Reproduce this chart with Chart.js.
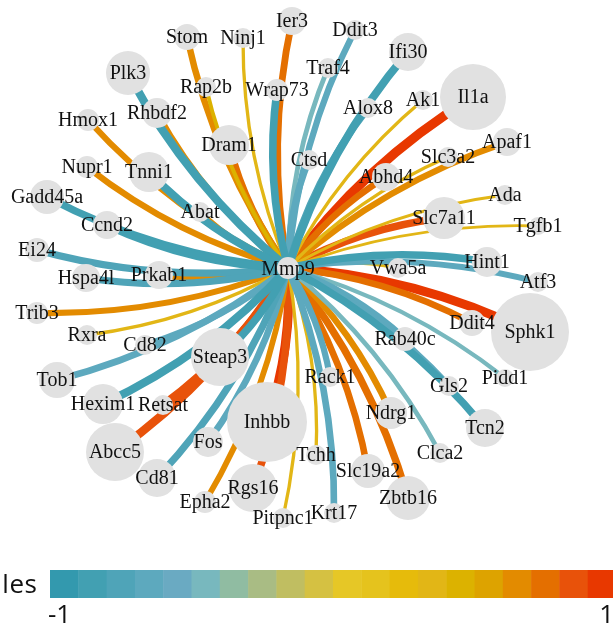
<!DOCTYPE html>
<html>
<head>
<meta charset="utf-8">
<script src="https://cdn.jsdelivr.net/npm/chart.js@4.4.1/dist/chart.umd.min.js"></script>
<style>
  html, body { margin: 0; padding: 0; background: #ffffff; overflow: hidden; }
  canvas { display: block; }
</style>
</head>
<body>
<canvas id="net" width="613" height="628"></canvas>
<script>
// Hub gene and its neighbours in the co-expression network
const hub = 'Mmp9';
const hubWeight = 1.1;

const genes = [
  'Stom', 'Ninj1', 'Ier3', 'Plk3', 'Rap2b', 'Wrap73', 'Rhbdf2', 'Hmox1', 'Dram1', 'Ctsd',
  'Nupr1', 'Tnni1', 'Gadd45a', 'Abat', 'Ccnd2', 'Ei24', 'Hspa4l', 'Prkab1',
  'Ddit3', 'Traf4', 'Ifi30', 'Alox8', 'Ak1', 'Il1a', 'Apaf1', 'Slc3a2', 'Abhd4', 'Ada',
  'Slc7a11', 'Tgfb1', 'Hint1', 'Vwa5a',
  'Trib3', 'Rxra', 'Cd82', 'Tob1', 'Steap3', 'Hexim1', 'Retsat', 'Abcc5', 'Inhbb', 'Fos',
  'Cd81', 'Rgs16', 'Epha2', 'Pitpnc1',
  'Atf3', 'Ddit4', 'Sphk1', 'Rab40c', 'Rack1', 'Pidd1', 'Gls2', 'Ndrg1', 'Tcn2', 'Tchh',
  'Clca2', 'Slc19a2', 'Zbtb16', 'Krt17'
];

// Layout coordinates (hub at the origin, y pointing up)
const layoutX = [
  -101, -45, 4, -160, -82, -11, -131, -200, -59, 21,
  -201, -139, -241, -88, -181, -251, -202, -129,
  67, 40, 120, 80, 135, 185, 219, 160, 98, 217,
  156, 250, 199, 110,
  -251, -201, -143, -231, -68, -185, -125, -173, -21, -80,
  -131, -35, -83, -5,
  250, 184, 242, 117, 42, 217, 161, 103, 197, 28,
  152, 80, 120, 46
];
const layoutY = [
  231, 230, 247, 195, 181, 178, 155, 148, 123, 108,
  101, 96, 71, 56, 43, 18, -10, -7,
  238, 200, 216, 160, 168, 171, 126, 111, 91, 73,
  50, 42, 6, 0,
  -45, -67, -77, -112, -89, -136, -137, -184, -154, -174,
  -210, -220, -234, -250,
  -14, -55, -64, -71, -109, -110, -118, -145, -160, -187,
  -185, -203, -230, -245
];

// Node weight (drives circle size)
const nodeWeight = [
  1.3, 1.0, 1.4, 2.2, 1.0, 1.1, 1.5, 1.1, 2.0, 1.0,
  1.1, 2.0, 1.7, 1.0, 1.4, 1.2, 1.4, 1.4,
  1.0, 1.0, 1.9, 1.0, 1.0, 3.3, 1.4, 1.0, 1.4, 1.0,
  2.1, 0.9, 1.5, 1.0,
  1.1, 1.0, 1.0, 1.8, 2.9, 2.0, 1.0, 2.9, 4.0, 1.5,
  1.9, 2.4, 1.1, 1.0,
  1.0, 1.3, 3.9, 1.2, 1.0, 0.9, 1.0, 1.6, 1.9, 1.0,
  1.0, 1.7, 2.2, 1.0
];

// Correlation of each neighbour with the hub (-1 .. 1)
const edgeValue = [
  0.68, 0.35, 0.72, -0.85, 0.40, -0.80, 0.65, 0.65, 0.75, -0.70,
  0.65, -0.85, -0.80, 0.60, -0.85, -0.75, -0.75, 0.65,
  -0.65, -0.50, -0.85, -0.75, 0.35, 0.97, 0.65, 0.35, 0.70, 0.30,
  0.80, 0.30, -0.80, 0.35,
  0.65, 0.35, -0.65, -0.70, -0.80, -0.85, 0.85, 0.88, 0.97, -0.70,
  -0.75, 0.80, 0.60, 0.35,
  -0.62, 0.70, 0.95, -0.70, -0.65, -0.45, -0.70, 0.68, -0.80, 0.35,
  -0.50, 0.70, 0.78, -0.70
];

const legendTitle = 'Scales';
const legendTicks = ['-1', '1'];
const legendMin = -1, legendMax = 1;

// 20-step diverging palette from -1 (teal) to 1 (red)
const palette = [
  '#3399ae', '#42a0b2', '#4fa4b8', '#5da9be', '#6aaac2', '#78b8be', '#90bca2', '#a9bc84',
  '#c0be61', '#d5c142', '#e6c726', '#e5c31d', '#e6bb0b', '#e2b616', '#dcb200', '#dda300',
  '#e38b00', '#e46f00', '#e8520a', '#e83800'
];

function colorFor(v) {
  const t = (v - legendMin) / (legendMax - legendMin);
  const i = Math.max(0, Math.min(palette.length - 1, Math.floor(t * palette.length)));
  return palette[i];
}
function widthFor(v) { return 9.5 * Math.abs(v); }
function radiusFor(w) { return 10 * w; }

const BEND = 0.1;
const labelFont = '20px "Liberation Serif", "Times New Roman", serif';

// Curved edges from the hub to every neighbour; positive links first,
// negative links painted over them
const edgePlugin = {
  id: 'edges',
  beforeDatasetsDraw(chart) {
    const { ctx, scales: { x, y } } = chart;
    const x0 = x.getPixelForValue(0), y0 = y.getPixelForValue(0);
    const order = genes.map((g, i) => i).sort((a, b) => edgeValue[b] - edgeValue[a]);
    ctx.save();
    ctx.lineCap = 'butt';
    order.forEach(i => {
      const x1 = x.getPixelForValue(layoutX[i]);
      const y1 = y.getPixelForValue(layoutY[i]);
      const dx = x1 - x0, dy = y1 - y0;
      const cx = (x0 + x1) / 2 + BEND * dy;
      const cy = (y0 + y1) / 2 - BEND * dx;
      ctx.beginPath();
      ctx.moveTo(x0, y0);
      ctx.quadraticCurveTo(cx, cy, x1, y1);
      ctx.strokeStyle = colorFor(edgeValue[i]);
      ctx.lineWidth = widthFor(edgeValue[i]);
      ctx.stroke();
    });
    ctx.restore();
  }
};

// Gene names on top of the nodes
const labelPlugin = {
  id: 'nodeLabels',
  afterDatasetsDraw(chart) {
    const { ctx, scales: { x, y } } = chart;
    ctx.save();
    ctx.font = labelFont;
    ctx.fillStyle = '#111111';
    ctx.textAlign = 'center';
    ctx.textBaseline = 'middle';
    genes.forEach((g, i) => {
      ctx.fillText(g, x.getPixelForValue(layoutX[i]), y.getPixelForValue(layoutY[i]) + 1);
    });
    ctx.fillText(hub, x.getPixelForValue(0), y.getPixelForValue(0) + 2);
    ctx.restore();
  }
};

// Colour key along the bottom
const legendPlugin = {
  id: 'colourKey',
  afterDraw(chart) {
    const ctx = chart.ctx;
    const left = 50, top = 570, h = 28, w = 28.3;
    ctx.save();
    palette.forEach((c, i) => {
      ctx.fillStyle = c;
      ctx.fillRect(left + i * w, top, w + 0.5, h);
    });
    ctx.fillStyle = '#111111';
    ctx.textBaseline = 'alphabetic';
    ctx.textAlign = 'left';
    // title set right-to-left, ending next to the bar
    ctx.font = '26px "Open Sans", "Noto Sans", sans-serif';
    let cx = 37;
    for (let k = legendTitle.length - 1; k >= 0; k--) {
      const ch = legendTitle[k];
      cx -= ctx.measureText(ch).width;
      ctx.fillText(ch, cx, 593);
      cx -= 0.6;
    }
    ctx.font = '26px "Open Sans", "Noto Sans", sans-serif';
    ctx.fillText(legendTicks[0], 48, 623);
    ctx.textAlign = 'right';
    ctx.fillText(legendTicks[1], 614, 623);
    ctx.restore();
  }
};

const nodePoints = genes.map((g, i) => ({ x: layoutX[i], y: layoutY[i], r: radiusFor(nodeWeight[i]) }));
nodePoints.push({ x: 0, y: 0, r: radiusFor(hubWeight) });

new Chart(document.getElementById('net'), {
  type: 'bubble',
  data: {
    datasets: [{
      label: 'genes',
      data: nodePoints,
      backgroundColor: '#e1e1e1',
      borderWidth: 0,
      hoverRadius: 0,
      hoverBorderWidth: 0,
      clip: false
    }]
  },
  options: {
    responsive: false,
    animation: false,
    devicePixelRatio: 1,
    layout: { padding: 0, autoPadding: false },
    plugins: { legend: { display: false }, tooltip: { enabled: false }, title: { display: false } },
    events: [],
    scales: {
      x: { type: 'linear', min: -288, max: 325, display: false },
      y: { type: 'linear', min: -360, max: 268, display: false }
    }
  },
  plugins: [edgePlugin, labelPlugin, legendPlugin]
});
</script>
</body>
</html>
